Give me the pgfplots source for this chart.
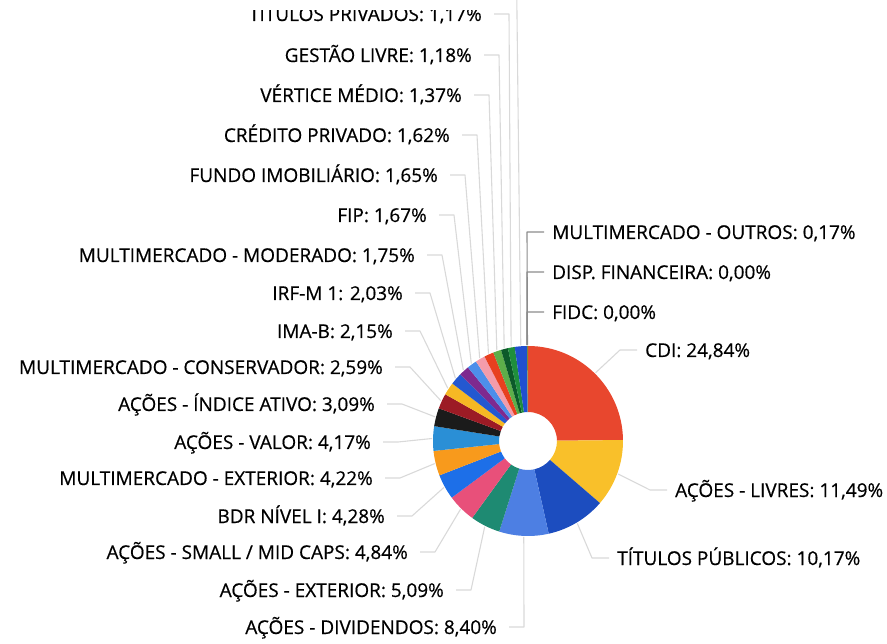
\documentclass[border=0pt]{standalone}
\usepackage{fontspec}
\setmainfont[FakeBold=0.5]{Open Sans}
\usepackage{pgfplots}
\usepackage{pgfplotstable}
\pgfplotsset{compat=1.18}

\pgfplotstableread[col sep=semicolon]{
name;val;hex;side;lx;ly
CDI;24.84;E8472E;R;645;350
AÇÕES - LIVRES;11.49;F9C02A;R;675;490
TÍTULOS PÚBLICOS;10.17;1C4DBF;R;617;558
AÇÕES - DIVIDENDOS;8.40;4D7FE3;L;497;627
AÇÕES - EXTERIOR;5.09;1E8A72;L;444;590
AÇÕES - SMALL / MID CAPS;4.84;E8507A;L;408;552
BDR NÍVEL I;4.28;1D6FE8;L;385;516
MULTIMERCADO - EXTERIOR;4.22;F89A1C;L;373;478
AÇÕES - VALOR;4.17;2A8FD6;L;371;442
AÇÕES - ÍNDICE ATIVO;3.09;1B1B1B;L;375;404
MULTIMERCADO - CONSERVADOR;2.59;9C1B25;L;383;367
IMA-B;2.15;F6B824;L;393;331
IRF-M 1;2.03;2458D0;L;403;293
MULTIMERCADO - MODERADO;1.75;7E2A8F;L;415;255
FIP;1.67;4D8EEA;L;427;215
FUNDO IMOBILIÁRIO;1.65;F49CAB;L;438;175
CRÉDITO PRIVADO;1.62;E8401F;L;450;135
VÉRTICE MÉDIO;1.37;5DAE4A;L;462;95
GESTÃO LIVRE;1.18;0C5A2A;L;472;55
TÍTULOS PRIVADOS;1.17;1F8F3C;L;482;14
OUTROS;2.06;2050D0;U;0;0
FIDC;0.00;2050D0;R;552;312
DISP. FINANCEIRA;0.00;2050D0;R;552;272
MULTIMERCADO - OUTROS;0.17;7A8A3A;R;552;232
}\slices

\definecolor{leader}{HTML}{D9D9D9}
\definecolor{leaderdark}{HTML}{8C8C8C}

\begin{document}
\begin{tikzpicture}
\useasboundingbox (0,0) rectangle (887pt,644pt);
\clip (0,0) rectangle (887pt,644pt);
\begin{axis}[hide axis, scale only axis, x=1pt, y=1pt,
  xmin=0, xmax=887, ymin=0, ymax=644, y dir=reverse,
  at={(0,0)}, anchor=south west, clip=false,
  /pgf/number format/.cd, assume math mode=true, use comma, fixed, precision=2, fixed zerofill]
\addplot[draw=none] coordinates {(0,0)};
\pgfplotsextra{%
  \def\cx{528}\def\cy{441}\def\Ro{95}\def\Ri{29}%
  \pgfplotstablegetrowsof{\slices}%
  \pgfmathtruncatemacro{\nrows}{\pgfplotsretval-1}%
  \def\cum{0}%
  \pgfplotsforeachungrouped \rowi in {0,...,\nrows}{%
    \pgfplotstablegetelem{\rowi}{val}\of\slices \edef\val{\pgfplotsretval}%
    \pgfplotstablegetelem{\rowi}{hex}\of\slices \edef\hx{\pgfplotsretval}%
    \pgfplotstablegetelem{\rowi}{side}\of\slices \edef\sd{\pgfplotsretval}%
    \pgfplotstablegetelem{\rowi}{lx}\of\slices \edef\lx{\pgfplotsretval}%
    \pgfplotstablegetelem{\rowi}{ly}\of\slices \edef\ly{\pgfplotsretval}%
    \pgfplotstablegetelem{\rowi}{name}\of\slices \let\nm\pgfplotsretval
    \definecolor{slc}{HTML}{\hx}%
    \pgfmathsetmacro\angA{90-3.6*\cum}%
    \pgfmathsetmacro\angB{90-3.6*(\cum+\val)}%
    \pgfmathsetmacro\angM{90-3.6*(\cum+\val/2)}%
    \pgfmathsetmacro\ax{\cx+(\Ro+1)*cos(\angM)}%
    \pgfmathsetmacro\ay{\cy-(\Ro+1)*sin(\angM)}%
    \pgfmathsetmacro\lyb{\ly+7}%
    \def\tmpL{L}\def\tmpR{R}\def\tmpU{U}%
    \ifx\sd\tmpL
      \pgfmathsetmacro\bx{\lx+27}\pgfmathsetmacro\ccx{\lx+12}%
      \draw[leader, line width=1.1pt, line join=round] (axis cs:\ax,\ay) -- (axis cs:\bx,\ly) -- (axis cs:\ccx,\ly);
      \node[anchor=base east, inner sep=0pt, font=\fontsize{19}{22}\selectfont] at (axis cs:\lx,\lyb) {\nm: \pgfmathprintnumber{\val}\%};
    \fi
    \ifx\sd\tmpR
      \pgfmathsetmacro\bx{\lx-25}\pgfmathsetmacro\ccx{\lx-8}%
      \ifdim\val pt<1pt
        \draw[leaderdark, line width=1.1pt, line join=round] (axis cs:\ax,\ay) -- (axis cs:\bx,\ly) -- (axis cs:\ccx,\ly);
      \else
        \draw[leader, line width=1.1pt, line join=round] (axis cs:\ax,\ay) -- (axis cs:\bx,\ly) -- (axis cs:\ccx,\ly);
      \fi
      \node[anchor=base west, inner sep=0pt, font=\fontsize{19}{22}\selectfont] at (axis cs:\lx,\lyb) {\nm: \pgfmathprintnumber{\val}\%};
    \fi
    \ifx\sd\tmpU
      \pgfmathsetmacro\bx{\ax-4}%
      \draw[leader, line width=1.1pt] (axis cs:\ax,\ay) -- (axis cs:\bx,-5);
    \fi
    \ifdim\val pt>0pt
      \pgfmathsetmacro\xo{\cx+\Ro*cos(\angA)}\pgfmathsetmacro\yo{\cy-\Ro*sin(\angA)}%
      \pgfmathsetmacro\xin{\cx+\Ri*cos(\angB)}\pgfmathsetmacro\yin{\cy-\Ri*sin(\angB)}%
      \fill[slc] (axis cs:\xo,\yo) arc[start angle=\angA, end angle=\angB, radius=\Ro pt]
        -- (axis cs:\xin,\yin) arc[start angle=\angB, end angle=\angA, radius=\Ri pt] -- cycle;
    \fi
    \pgfmathsetmacro\cum{\cum+\val}%
  }%
  % the top rows of the reference are cropped
  \fill[white] (axis cs:200,-2) rectangle (axis cs:492,10);
}
\end{axis}
\end{tikzpicture}
\end{document}
